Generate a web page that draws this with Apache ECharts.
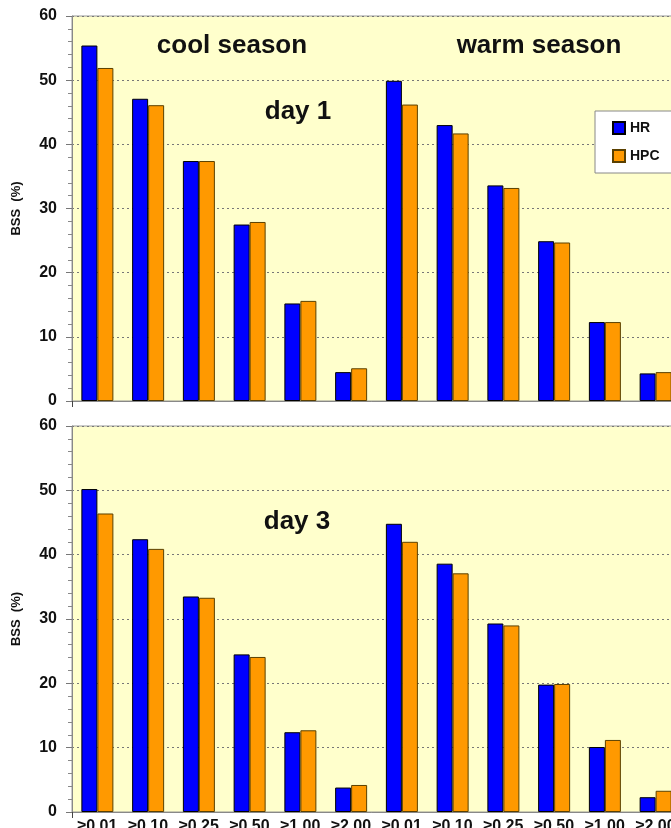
<!DOCTYPE html>
<html>
<head>
<meta charset="utf-8">
<script src="https://cdn.jsdelivr.net/npm/echarts@6/dist/echarts.min.js"></script>
<style>
html,body{margin:0;padding:0;background:#fff;}
#chart{width:671px;height:828px;}
</style>
</head>
<body>
<div id="chart"></div>
<script>
// ---- data ----
var thresholds = ['≥0.01','≥0.10','≥0.25','≥0.50','≥1.00','≥2.00'];
var categories = thresholds.concat(thresholds); // cool season (6) + warm season (6)
var yTicks = [0, 10, 20, 30, 40, 50, 60];
var seriesNames = ['HR', 'HPC'];
var day1HR  = [55.4, 47.1, 37.4, 27.5, 15.2, 4.5, 49.9, 43.0, 33.6, 24.9, 12.3, 4.3];
var day1HPC = [51.9, 46.1, 37.4, 27.9, 15.6, 5.1, 46.2, 41.7, 33.2, 24.7, 12.3, 4.5];
var day3HR  = [50.2, 42.4, 33.5, 24.5, 12.4, 3.8, 44.8, 38.6, 29.3, 19.8, 10.1, 2.3];
var day3HPC = [46.4, 40.9, 33.3, 24.1, 12.7, 4.2, 42.0, 37.1, 29.0, 19.9, 11.2, 3.3];
var panelLabels = ['day 1', 'day 3'];
var seasonLabels = ['cool season', 'warm season'];
var yName = 'BSS  (%)';

// ---- styles ----
var FONT = '"Liberation Sans", Arial, Helvetica, sans-serif';
var BLUE = '#0000FF', ORANGE = '#FF9900';
var chart = echarts.init(document.getElementById('chart'), null, {renderer: 'canvas'});

function xAxisFor(gridIndex, showLabels) {
  return {
    type: 'category', gridIndex: gridIndex, data: categories,
    boundaryGap: true,
    axisLine: {show: true, lineStyle: {color: '#888', width: 1}},
    axisTick: {show: true, length: 6, lineStyle: {color: '#444'},
      interval: function (index) { return index === thresholds.length; }},
    axisLabel: {show: showLabels, interval: 0, margin: 7,
      fontFamily: FONT, fontWeight: 'bold', fontSize: 16, color: '#111'},
    splitLine: {show: false}
  };
}
function yAxisFor(gridIndex) {
  return {
    type: 'value', gridIndex: gridIndex, min: yTicks[0], max: yTicks[yTicks.length - 1], interval: 10,
    name: yName, nameLocation: 'middle', nameRotate: 90, nameGap: 49,
    nameTextStyle: {fontFamily: FONT, fontWeight: 'bold', fontSize: 13, color: '#111'},
    axisLine: {show: true, lineStyle: {color: '#888', width: 1}},
    axisTick: {show: true, length: 6, lineStyle: {color: '#777'}},
    minorTick: {show: true, splitNumber: 5, length: 4, lineStyle: {color: '#888'}},
    axisLabel: {margin: 15, fontFamily: FONT, fontWeight: 'bold', fontSize: 16, color: '#111'},
    splitLine: {show: true, lineStyle: {color: '#777', type: [2, 3], width: 1}}
  };
}
function barSeries(name, data, idx, color, border) {
  return {
    name: name, type: 'bar', xAxisIndex: idx, yAxisIndex: idx, data: data,
    barWidth: 16, barGap: '0%',
    itemStyle: {color: color, borderColor: border, borderWidth: 1},
    emphasis: {disabled: true}
  };
}

var option = {
  animation: false,
  backgroundColor: '#ffffff',
  grid: [
    {left: 72, top: 16, width: 609, height: 385, containLabel: false, outerBoundsMode: 'none',
     show: true, backgroundColor: '#FFFFCC', borderColor: '#999', borderWidth: 1},
    {left: 72, top: 426, width: 609, height: 386, containLabel: false, outerBoundsMode: 'none',
     show: true, backgroundColor: '#FFFFCC', borderColor: '#999', borderWidth: 1}
  ],
  xAxis: [xAxisFor(0, false), xAxisFor(1, true)],
  yAxis: [yAxisFor(0), yAxisFor(1)],
  legend: {
    data: seriesNames, orient: 'vertical', left: 595, top: 111,
    padding: [10, 30, 10, 17], itemGap: 14, itemWidth: 12, itemHeight: 12,
    icon: 'rect', backgroundColor: '#ffffff', borderColor: '#888', borderWidth: 1,
    textStyle: {fontFamily: FONT, fontWeight: 'bold', fontSize: 14, color: '#111'}
  },
  series: [
    barSeries(seriesNames[0], day1HR, 0, BLUE, '#000'),
    barSeries(seriesNames[1], day1HPC, 0, ORANGE, '#5a4000'),
    barSeries(seriesNames[0], day3HR, 1, BLUE, '#000'),
    barSeries(seriesNames[1], day3HPC, 1, ORANGE, '#5a4000')
  ],
  graphic: [
    {type: 'text', x: 232, y: 46, style: {text: seasonLabels[0], font: 'bold 26px ' + FONT, fill: '#111', align: 'center', verticalAlign: 'middle'}},
    {type: 'text', x: 539, y: 46, style: {text: seasonLabels[1], font: 'bold 26px ' + FONT, fill: '#111', align: 'center', verticalAlign: 'middle'}},
    {type: 'text', x: 298, y: 112, style: {text: panelLabels[0], font: 'bold 26px ' + FONT, fill: '#111', align: 'center', verticalAlign: 'middle'}},
    {type: 'text', x: 297, y: 522, style: {text: panelLabels[1], font: 'bold 26px ' + FONT, fill: '#111', align: 'center', verticalAlign: 'middle'}}
  ]
};
chart.setOption(option);
</script>
</body>
</html>
